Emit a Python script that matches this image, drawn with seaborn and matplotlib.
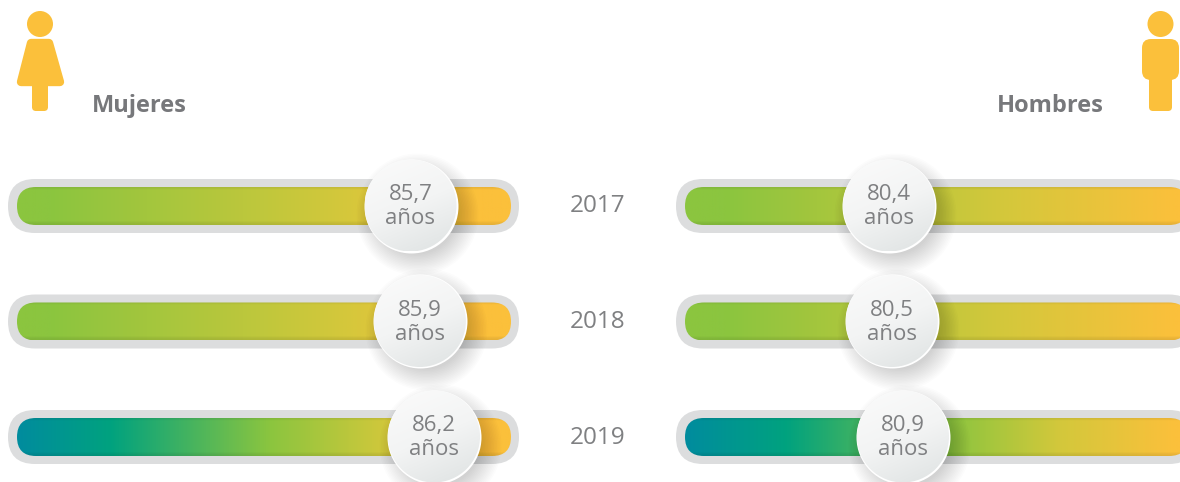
import pandas as pd
import numpy as np
import matplotlib.pyplot as plt
import seaborn as sns
from matplotlib.colors import LinearSegmentedColormap
from matplotlib.patches import FancyBboxPatch, Circle, Ellipse, Polygon

years = [2017, 2018, 2019]
mujeres = [85.7, 85.9, 86.2]
hombres = [80.4, 80.5, 80.9]
unidad = 'años'

sns.set_theme(style='white')
plt.rcParams['font.family'] = ['Open Sans', 'DejaVu Sans']

GRIS_TEXTO = '#7f8082'
AMARILLO = '#fbc03b'
MEDIO = '#d3c83b'
VERDE = '#8bc53f'
TEAL = '#008c9e'
TEAL2 = '#00a27f'

W, H = 1180, 482
fig = plt.figure(figsize=(W / 100, H / 100), dpi=100, facecolor='white')

# fondo en pixeles: pistas, iconos y titulos
bg = fig.add_axes([0, 0, 1, 1], zorder=0)
bg.set_xlim(0, W)
bg.set_ylim(H, 0)
bg.axis('off')

# ejes de datos, cada panel con su propia escala
PX_ANIO = 115.5
PX_M, PX_H = 47.0, 28.0


def data_axes(x_ref, v_ref, px_por_ano, left, right):
    ax = fig.add_axes([left / W, 0, (right - left) / W, 1], zorder=1)
    ax.set_xlim(v_ref + (left - x_ref) / px_por_ano, v_ref + (right - x_ref) / px_por_ano)
    ax.set_ylim(2017 + (H - 205.5) / PX_ANIO, 2017 - 205.5 / PX_ANIO)
    ax.axis('off')
    return ax


ax_m = data_axes(410.5, 85.7, PX_M, 0, 590)
ax_h = data_axes(889, 80.4, PX_H, 590, 1180)


def pista(x0, x1, yc, stops):
    # pista gris con barra degradada encima
    bg.add_patch(FancyBboxPatch((x0, yc - 27), x1 - x0, 54, boxstyle='round,pad=0,rounding_size=27',
                                fc='#dcddde', ec='none'))
    ix0, ix1 = x0 + 9, x1 - 8
    clip = FancyBboxPatch((ix0, yc - 19), ix1 - ix0, 38, boxstyle='round,pad=0,rounding_size=19',
                          fc='none', ec='none', transform=bg.transData)
    bg.add_patch(clip)
    pos = [(p - ix0) / (ix1 - ix0) for p, _ in stops]
    cmap = LinearSegmentedColormap.from_list('g', list(zip(pos, [c for _, c in stops])))
    grad = np.linspace(0, 1, 512).reshape(1, -1)
    im = bg.imshow(grad, cmap=cmap, aspect='auto', extent=(ix0, ix1, yc + 19, yc - 19), zorder=2)
    im.set_clip_path(clip)
    # borde algo mas oscuro arriba y abajo
    sombra = np.zeros((38, 1, 4))
    sombra[:3, 0, 3] = [0.06, 0.04, 0.01]
    sombra[-4:, 0, 3] = [0.02, 0.05, 0.07, 0.08]
    im2 = bg.imshow(sombra, aspect='auto', extent=(ix0, ix1, yc + 19, yc - 19), zorder=3)
    im2.set_clip_path(clip)


def stops_m(y):
    if y == 2019:
        return [(17, TEAL), (110, TEAL2), (270, VERDE), (390, MEDIO), (480, AMARILLO), (511, AMARILLO)]
    return [(17, VERDE), (50, VERDE), (340, MEDIO), (480, AMARILLO), (511, AMARILLO)]


def stops_h(y):
    if y == 2019:
        return [(685, TEAL), (785, TEAL2), (950, VERDE), (1060, MEDIO), (1175, AMARILLO), (1188, AMARILLO)]
    return [(685, VERDE), (725, VERDE), (1000, MEDIO), (1175, AMARILLO), (1188, AMARILLO)]


for i, y in enumerate(years):
    yc = 206 + i * PX_ANIO
    pista(8, 519, yc, stops_m(y))
    pista(676, 1196, yc, stops_h(y))
    bg.text(598, yc + 0.5, str(y), ha='center', va='center', fontsize=17.5, color=GRIS_TEXTO)

bg.set_xlim(0, W)
bg.set_ylim(H, 0)


def perilla(ax, valores, px_x):
    df = pd.DataFrame({'year': years, 'valor': valores})
    # sombra difusa desplazada abajo a la derecha
    sombra = df.assign(valor=df['valor'] + 6 / px_x, year=df['year'] + 8 / PX_ANIO)
    for d in range(122, 78, -3):
        sns.scatterplot(data=sombra, x='valor', y='year', ax=ax, s=(d * 0.72) ** 2, color='black',
                        alpha=0.012, linewidth=0, legend=False, zorder=3, clip_on=False)
    sns.scatterplot(data=df, x='valor', y='year', ax=ax, s=(94 * 0.72) ** 2, color='white',
                    linewidth=0, legend=False, zorder=4)
    xl, yl = ax.get_xlim(), ax.get_ylim()
    cmap = LinearSegmentedColormap.from_list('k', ['#fbfbfb', '#f3f4f4', '#dee2e2'])
    u, v = np.meshgrid(np.linspace(0, 1, 120), np.linspace(0, 1, 120))
    grad = u * 0.3 + v * 0.7
    for _, fila in df.iterrows():
        x, y = fila['valor'], fila['year']
        rx, ry = 46 / px_x, 46 / PX_ANIO
        clip = Ellipse((x, y), 2 * rx, 2 * ry, fc='none', ec='none', transform=ax.transData)
        ax.add_patch(clip)
        im = ax.imshow(grad, cmap=cmap, aspect='auto', extent=(x - rx, x + rx, y + ry, y - ry), zorder=5)
        im.set_clip_path(clip)
        ax.text(x, y + 0.01, f"{x:.1f}".replace('.', ',') + '\n' + unidad, ha='center', va='center',
                fontsize=16, color=GRIS_TEXTO, linespacing=1.17, zorder=6)
    ax.set_xlim(xl)
    ax.set_ylim(yl)
    ax.axis('off')


perilla(ax_m, mujeres, PX_M)
perilla(ax_h, hombres, PX_H)

# titulos
bg.text(92, 106, 'Mujeres', ha='left', va='center', fontsize=17, fontweight='bold', color='#77787b')
bg.text(1104, 106, 'Hombres', ha='right', va='center', fontsize=17, fontweight='bold', color='#77787b')

# iconos
bg.add_patch(Circle((40, 24), 13, fc=AMARILLO, ec='none'))
bg.add_patch(Polygon([(31, 43), (49, 43), (60, 82), (21, 82)], closed=True, fc=AMARILLO, ec=AMARILLO,
                     lw=6, joinstyle='round'))
bg.add_patch(FancyBboxPatch((32, 80), 16, 31, boxstyle='round,pad=0,rounding_size=4', fc=AMARILLO, ec='none'))

bg.add_patch(Circle((1160.5, 24), 13, fc=AMARILLO, ec='none'))
bg.add_patch(FancyBboxPatch((1142, 39), 37, 41, boxstyle='round,pad=0,rounding_size=9', fc=AMARILLO, ec='none'))
bg.add_patch(FancyBboxPatch((1149, 70), 23, 41, boxstyle='round,pad=0,rounding_size=4', fc=AMARILLO, ec='none'))

plt.savefig('out.png', dpi=100)
